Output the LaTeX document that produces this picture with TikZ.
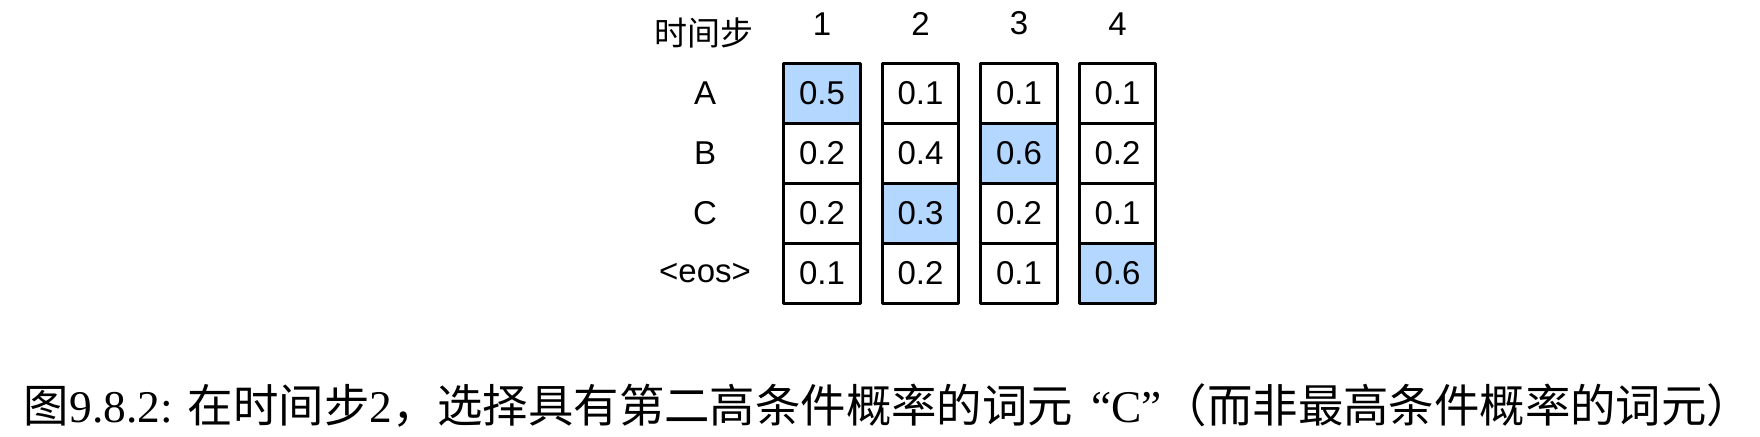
\documentclass[tikz,border=0pt]{standalone}
\usepackage{fontspec}
\setmainfont{Liberation Serif}
\setsansfont{Liberation Sans}
\newfontfamily\cjk{Noto Sans CJK SC}
\usetikzlibrary{positioning}
\definecolor{colorPick}{HTML}{B3D7FF}

\begin{document}
\begin{tikzpicture}[x=0.5pt,y=-0.5pt,node distance=0pt,every node/.append style={align=center,inner sep=0pt,outer sep=0pt},cell/.style={draw, line width=1.6pt, line join=round, minimum width=38.25pt, minimum height=30pt, font=\sffamily\fontsize{16.5}{16.5}\selectfont},pick/.style={cell, fill=colorPick},lab/.style={font=\sffamily\fontsize{16.5}{16.5}\selectfont},head/.style={lab, anchor=south},]
    \useasboundingbox (0,0) rectangle (1760,436);
    \coordinate (lx) at (705,0);
    % column 1
    \node [pick] (A1) at (822,93.3) {0.5};
    \node [cell, below=of A1] (B1) {0.2};
    \node [cell, below=of B1] (C1) {0.2};
    \node [cell, below=of C1] (E1) {0.1};
    % column 2
    \node [cell, right=11pt of A1] (A2) {0.1};
    \node [cell, below=of A2] (B2) {0.4};
    \node [pick, below=of B2] (C2) {0.3};
    \node [cell, below=of C2] (E2) {0.2};
    % column 3
    \node [cell, right=11pt of A2] (A3) {0.1};
    \node [pick, below=of A3] (B3) {0.6};
    \node [cell, below=of B3] (C3) {0.2};
    \node [cell, below=of C3] (E3) {0.1};
    % column 4
    \node [cell, right=11pt of A3] (A4) {0.1};
    \node [cell, below=of A4] (B4) {0.2};
    \node [cell, below=of B4] (C4) {0.1};
    \node [pick, below=of C4] (E4) {0.6};
    % time steps
    \node [head, above=14.1pt of A1] (t1) {1};
    \node [head, above=14.1pt of A2] (t2) {2};
    \node [head, above=14.1pt of A3] (t3) {3};
    \node [head, above=14.1pt of A4] (t4) {4};
    \node [lab, font=\cjk\fontsize{16.5}{16.5}\selectfont] (step) at (704,32.5) {时间步};
    % tokens
    \node [lab] (lA) at (lx |- A1) {A};
    \node [lab] (lB) at (lx |- B1) {B};
    \node [lab] (lC) at (lx |- C1) {C};
    \node [lab] (lE) at (lx |- E1) {<eos>};
    \node [font=\fontsize{22.7}{22.7}\selectfont] (cap) at (888,405) {{\cjk 图}9.8.2: {\cjk 在时间步}2{\cjk ，选择具有第二高条件概率的词元}\hspace{0.4em}“C”{\cjk （而非最高条件概率的词元）}};
\end{tikzpicture}
\end{document}
